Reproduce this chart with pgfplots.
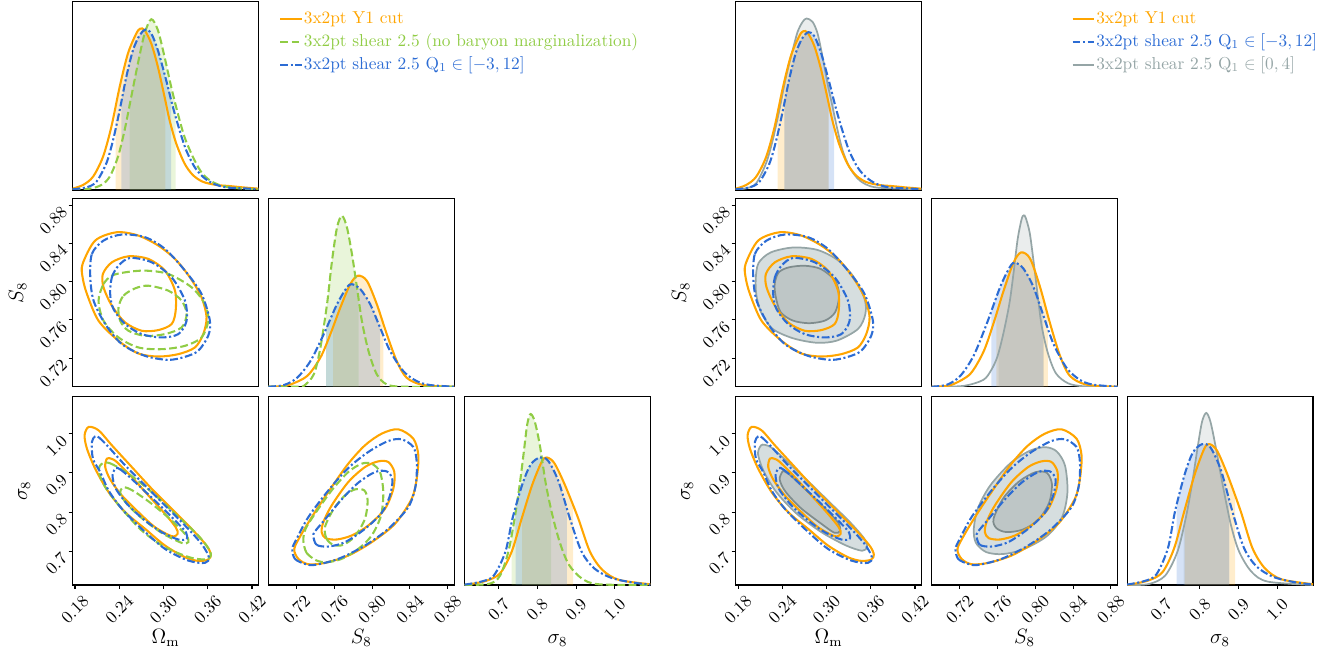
\documentclass[border=0pt]{standalone}
\usepackage{pgfplots}
\pgfplotsset{compat=1.18}
\usepackage{pgfplotstable}
\usepgfplotslibrary{fillbetween}
\definecolor{orC}{HTML}{FFA500}
\definecolor{grC}{HTML}{90CC45}
\definecolor{blC}{HTML}{2C6CD4}
\definecolor{gyC}{HTML}{95A5A6}
\definecolor{gyD}{HTML}{7F8C8D}
\definecolor{gyF}{HTML}{D6DEDF}
\definecolor{gyG}{HTML}{BEC6C6}
\def\pxu{0.578pt}
\tikzset{
 oL/.style={orC, line width=1.2pt},
 gL/.style={grC, line width=1.2pt, dash pattern=on 4.5pt off 2pt},
 bL/.style={blC, line width=1.2pt, dash pattern=on 4.5pt off 1.5pt on 1.2pt off 1.5pt},
 yL/.style={gyC, line width=1pt}}
\newcommand{\band}[3]{\addplot[fill=#1, fill opacity=0.2, draw=none] fill between[of=#2 and Z, soft clip={domain=#3}];}
\pgfplotsset{
 panel/.style={scale only axis, width=107.5pt, height=108.7pt, set layers, anchor=south west,
   axis line style={line width=0.6pt}, tick pos=left, tick align=outside,
   major tick length=2.3pt, every tick/.style={black, line width=0.6pt},
   xtick=\empty, ytick=\empty, label style={font=\large}, tick label style={font=\normalsize}},
 omx/.style={xmin=0.1766, xmax=0.4288},
 s8x/.style={xmin=0.690, xmax=0.887},
 sgx/.style={xmin=0.612, xmax=1.092},
 s8y/.style={ymin=0.690, ymax=0.887},
 sgy/.style={ymin=0.614, ymax=1.094},
 oney/.style={ymin=0, ymax=1},
 bot/.style={xticklabel style={inner sep=0pt, yshift=-11.8pt, rotate=45, anchor=center},
   xlabel style={at={(axis description cs:0.5,-0.31)}, anchor=base}},
 omt/.style={bot, xtick={0.18,0.24,0.30,0.36,0.42}, xticklabels={0.18,0.24,0.30,0.36,0.42}, xlabel={$\Omega_\mathrm{m}$}},
 s8t/.style={bot, xtick={0.72,0.76,0.80,0.84,0.88}, xticklabels={0.72,0.76,0.80,0.84,0.88}, xlabel={$S_8$}},
 sgt/.style={bot, xtick={0.7,0.8,0.9,1.0}, xticklabels={0.7,0.8,0.9,1.0}, xlabel={$\sigma_8$}},
 s8yt/.style={ytick={0.72,0.76,0.80,0.84,0.88}, yticklabels={0.72,0.76,0.80,0.84,0.88}, ylabel={$S_8$},
   yticklabel style={rotate=45, anchor=east}, ylabel style={at={(axis description cs:-0.295,0.5)}, anchor=center}},
 sgyt/.style={ytick={0.7,0.8,0.9,1.0}, yticklabels={0.7,0.8,0.9,1.0}, ylabel={$\sigma_8$},
   yticklabel style={rotate=45, anchor=east}, ylabel style={at={(axis description cs:-0.26,0.5)}, anchor=center}},
 leg/.style={legend cell align=left,
   legend image code/.code={\draw[##1] (0pt,0pt) -- (12.5pt,0pt);},
   legend style={at={(#1,0.962)}, anchor=north west, draw=none, fill=none, inner sep=0pt,
     row sep=2.3pt, font=\normalsize, nodes={inner sep=0.5pt, text height=7.5pt, text depth=2.5pt}}},
}
% ---------- 1D: Omega_m ----------
\pgfplotstableread{
x y
0.1766 0.007
0.1910 0.027
0.2045 0.071
0.2180 0.177
0.2293 0.336
0.2406 0.549
0.2518 0.726
0.2631 0.832
0.2685 0.858
0.2744 0.850
0.2834 0.779
0.2924 0.655
0.3014 0.496
0.3082 0.372
0.3172 0.248
0.3284 0.142
0.3397 0.080
0.3532 0.044
0.3712 0.027
0.3892 0.021
0.4073 0.014
0.4289 0.007
}\oOm
\pgfplotstableread{
x y
0.1766 0.004
0.1955 0.014
0.2090 0.044
0.2225 0.142
0.2316 0.265
0.2406 0.425
0.2496 0.602
0.2586 0.743
0.2676 0.823
0.2757 0.853
0.2834 0.832
0.2924 0.743
0.3036 0.584
0.3127 0.442
0.3217 0.319
0.3307 0.212
0.3419 0.124
0.3532 0.071
0.3667 0.035
0.3847 0.014
0.4073 0.009
0.4289 0.004
}\bOm
\pgfplotstableread{
x y
0.1766 0.002
0.2000 0.007
0.2158 0.027
0.2271 0.071
0.2383 0.177
0.2473 0.319
0.2563 0.496
0.2653 0.673
0.2744 0.832
0.2834 0.908
0.2924 0.850
0.3014 0.708
0.3104 0.549
0.3194 0.407
0.3284 0.283
0.3397 0.177
0.3509 0.097
0.3622 0.053
0.3757 0.027
0.3937 0.012
0.4289 0.002
}\gOm
\pgfplotstableread{
x y
0.1766 0.002
0.1910 0.009
0.2045 0.035
0.2180 0.142
0.2271 0.265
0.2361 0.425
0.2451 0.602
0.2541 0.743
0.2608 0.841
0.2676 0.894
0.2730 0.912
0.2811 0.894
0.2879 0.832
0.2946 0.708
0.3014 0.566
0.3082 0.442
0.3149 0.319
0.3217 0.212
0.3307 0.124
0.3419 0.062
0.3532 0.030
0.3712 0.012
0.4289 0.004
}\yOm
% ---------- 1D: S8 ----------
\pgfplotstableread{
x y
0.690 0.000
0.7031 0.002
0.7136 0.012
0.7312 0.057
0.7452 0.155
0.7557 0.279
0.7663 0.421
0.7768 0.545
0.7849 0.590
0.7944 0.563
0.8049 0.439
0.8155 0.279
0.8260 0.137
0.8365 0.048
0.8541 0.009
0.887 0.000
}\oSe
\pgfplotstableread{
x y
0.690 0.000
0.7066 0.009
0.7206 0.048
0.7347 0.137
0.7487 0.279
0.7628 0.439
0.7733 0.528
0.7786 0.545
0.7874 0.519
0.7979 0.439
0.8084 0.314
0.8190 0.190
0.8330 0.083
0.8471 0.030
0.8611 0.009
0.887 0.000
}\bSe
\pgfplotstableread{
x y
0.690 0.000
0.7206 0.000
0.7276 0.004
0.7382 0.066
0.7452 0.208
0.7522 0.439
0.7575 0.670
0.7628 0.847
0.7680 0.909
0.7733 0.847
0.7786 0.705
0.7839 0.528
0.7891 0.350
0.7961 0.190
0.8049 0.066
0.8155 0.012
0.8330 0.000
0.887 0.000
}\gSe
\pgfplotstableread{
x y
0.690 0.000
0.7234 0.004
0.7448 0.036
0.7533 0.089
0.7598 0.160
0.7662 0.285
0.7726 0.445
0.7769 0.605
0.7812 0.783
0.7854 0.890
0.7876 0.911
0.7897 0.899
0.7940 0.819
0.7983 0.658
0.8026 0.480
0.8068 0.320
0.8133 0.178
0.8218 0.071
0.8347 0.018
0.8518 0.002
0.887 0.000
}\ySe
% ---------- 1D: sigma8 ----------
\pgfplotstableread{
x y
0.612 0.000
0.6659 0.021
0.7037 0.062
0.7339 0.178
0.7598 0.355
0.7868 0.533
0.8116 0.657
0.8245 0.678
0.8439 0.648
0.8709 0.533
0.9054 0.355
0.9356 0.178
0.9680 0.080
1.0111 0.027
1.092 0.004
}\oSg
\pgfplotstableread{
x y
0.612 0.002
0.6551 0.018
0.6875 0.050
0.7177 0.178
0.7360 0.355
0.7609 0.533
0.7824 0.639
0.8062 0.678
0.8277 0.661
0.8547 0.551
0.8838 0.355
0.9140 0.178
0.9464 0.089
0.9896 0.039
1.0435 0.014
1.092 0.002
}\bSg
\pgfplotstableread{
x y
0.612 0.000
0.6767 0.007
0.7037 0.050
0.7253 0.178
0.7414 0.355
0.7544 0.533
0.7652 0.710
0.7738 0.853
0.7824 0.909
0.7932 0.870
0.8062 0.746
0.8223 0.533
0.8407 0.355
0.8601 0.213
0.8817 0.107
0.9140 0.036
0.9572 0.004
1.092 0.000
}\gSg
\pgfplotstableread{
x y
0.612 0.000
0.6682 0.005
0.7105 0.050
0.7423 0.178
0.7635 0.355
0.7794 0.533
0.7953 0.746
0.8059 0.870
0.8165 0.915
0.8271 0.870
0.8398 0.746
0.8589 0.533
0.8801 0.320
0.9013 0.178
0.9331 0.071
0.9754 0.018
1.092 0.000
}\ySg
% ---------- 2D: Omega_m - S8 ----------
\pgfplotstableread{
x y
0.1903 0.8186
0.2074 0.8431
0.2367 0.8518
0.2660 0.8483
0.2930 0.8378
0.3156 0.8238
0.3358 0.8046
0.3516 0.7836
0.3584 0.7626
0.3539 0.7451
0.3426 0.7311
0.3201 0.7241
0.2930 0.7216
0.2660 0.7248
0.2390 0.7381
0.2119 0.7591
0.1962 0.7871
0.1903 0.8046
}\oPa
\pgfplotstableread{
x y
0.2178 0.8081
0.2300 0.8203
0.2525 0.8266
0.2795 0.8238
0.3020 0.8116
0.3156 0.7906
0.3165 0.7696
0.3110 0.7556
0.2930 0.7493
0.2705 0.7486
0.2480 0.7573
0.2300 0.7748
0.2187 0.7941
}\oPb
\pgfplotstableread{
x y
0.2007 0.8046
0.2029 0.8291
0.2187 0.8431
0.2435 0.8494
0.2750 0.8466
0.3020 0.8343
0.3291 0.8116
0.3516 0.7871
0.3629 0.7591
0.3606 0.7433
0.3471 0.7276
0.3291 0.7213
0.3065 0.7181
0.2750 0.7223
0.2435 0.7346
0.2210 0.7556
0.2052 0.7801
}\bPa
\pgfplotstableread{
x y
0.2277 0.7871
0.2300 0.8046
0.2390 0.8168
0.2547 0.8249
0.2840 0.8203
0.3110 0.8046
0.3291 0.7801
0.3313 0.7591
0.3201 0.7451
0.2975 0.7416
0.2705 0.7451
0.2480 0.7556
0.2322 0.7713
}\bPb
\pgfplotstableread{
x y
0.2119 0.7801
0.2187 0.7976
0.2300 0.8063
0.2480 0.8098
0.2750 0.8116
0.3065 0.8081
0.3381 0.7941
0.3561 0.7766
0.3606 0.7591
0.3516 0.7416
0.3291 0.7328
0.2975 0.7293
0.2660 0.7311
0.2390 0.7416
0.2187 0.7591
}\gPa
\pgfplotstableread{
x y
0.2390 0.7731
0.2457 0.7853
0.2615 0.7930
0.2795 0.7958
0.3065 0.7906
0.3246 0.7801
0.3313 0.7661
0.3246 0.7521
0.3020 0.7451
0.2750 0.7433
0.2525 0.7486
0.2412 0.7591
}\gPb
\pgfplotstableread{
x y
0.2040 0.8028
0.2078 0.8195
0.2242 0.8306
0.2543 0.8358
0.2871 0.8334
0.3145 0.8230
0.3363 0.8056
0.3516 0.7819
0.3527 0.7662
0.3429 0.7506
0.3145 0.7384
0.2871 0.7360
0.2543 0.7408
0.2269 0.7506
0.2116 0.7673
0.2050 0.7854
}\yPa
\pgfplotstableread{
x y
0.2297 0.7976
0.2351 0.8097
0.2488 0.8150
0.2707 0.8167
0.2926 0.8132
0.3117 0.8010
0.3172 0.7854
0.3117 0.7680
0.2980 0.7593
0.2762 0.7565
0.2543 0.7593
0.2379 0.7680
0.2313 0.7836
}\yPb
% ---------- 2D: Omega_m - sigma8 ----------
\pgfplotstableread{
x y
0.1930 0.9961
0.1984 1.0174
0.2119 1.0089
0.2300 0.9705
0.2570 0.9151
0.2840 0.8597
0.3111 0.8085
0.3381 0.7574
0.3583 0.7148
0.3642 0.6917
0.3606 0.6789
0.3471 0.6755
0.3291 0.6849
0.3020 0.7148
0.2750 0.7574
0.2480 0.8000
0.2255 0.8512
0.2074 0.9108
0.1962 0.9620
}\oQa
\pgfplotstableread{
x y
0.2232 0.9364
0.2291 0.9364
0.2367 0.9279
0.2570 0.8895
0.2795 0.8426
0.3020 0.7957
0.3165 0.7616
0.3192 0.7446
0.3111 0.7386
0.2885 0.7616
0.2660 0.8000
0.2435 0.8426
0.2277 0.8835
0.2210 0.9151
}\oQb
\pgfplotstableread{
x y
0.2074 0.9935
0.2128 0.9901
0.2255 0.9662
0.2480 0.9194
0.2750 0.8682
0.3020 0.8170
0.3291 0.7659
0.3516 0.7190
0.3615 0.6849
0.3561 0.6704
0.3336 0.6764
0.3020 0.7062
0.2705 0.7574
0.2435 0.8085
0.2255 0.8554
0.2142 0.9023
0.2043 0.9364
0.2029 0.9790
}\bQa
\pgfplotstableread{
x y
0.2354 0.9125
0.2412 0.9091
0.2525 0.8921
0.2750 0.8529
0.2975 0.8128
0.3201 0.7702
0.3304 0.7489
0.3313 0.7318
0.3201 0.7301
0.2975 0.7489
0.2750 0.7787
0.2525 0.8170
0.2354 0.8597
0.2309 0.8938
}\bQb
\pgfplotstableread{
x y
0.2173 0.9245
0.2277 0.9245
0.2525 0.8980
0.2840 0.8512
0.3156 0.7957
0.3471 0.7403
0.3633 0.6994
0.3606 0.6806
0.3381 0.6832
0.3020 0.7105
0.2705 0.7531
0.2435 0.8085
0.2210 0.8639
0.2119 0.9066
}\gQa
\pgfplotstableread{
x y
0.2444 0.8622
0.2502 0.8622
0.2615 0.8512
0.2840 0.8213
0.3111 0.7787
0.3309 0.7403
0.3336 0.7233
0.3246 0.7216
0.2975 0.7471
0.2705 0.7847
0.2502 0.8213
0.2412 0.8486
}\gQb
\pgfplotstableread{
x y
0.2110 0.9700
0.2165 0.9717
0.2265 0.9632
0.2487 0.9258
0.2764 0.8765
0.3041 0.8255
0.3318 0.7745
0.3507 0.7337
0.3551 0.7116
0.3484 0.7014
0.3263 0.7150
0.2930 0.7490
0.2597 0.7958
0.2320 0.8510
0.2143 0.9063
0.2071 0.9488
}\yQa
\pgfplotstableread{
x y
0.2403 0.9037
0.2431 0.9037
0.2514 0.8935
0.2681 0.8638
0.2941 0.8170
0.3152 0.7745
0.3185 0.7524
0.3108 0.7473
0.2930 0.7703
0.2653 0.8102
0.2442 0.8527
0.2365 0.8833
}\yQb
% ---------- 2D: S8 - sigma8 ----------
\pgfplotstableread{
x y
0.7175 0.7062
0.7218 0.6807
0.7324 0.6670
0.7500 0.6704
0.7747 0.6892
0.7995 0.7233
0.8242 0.7702
0.8419 0.8341
0.8472 0.8853
0.8489 0.9449
0.8436 0.9876
0.8277 1.0114
0.8101 1.0003
0.7924 0.9705
0.7747 0.9236
0.7571 0.8639
0.7394 0.8000
0.7253 0.7446
}\oRa
\pgfplotstableread{
x y
0.7465 0.7489
0.7507 0.7335
0.7624 0.7301
0.7783 0.7403
0.7959 0.7659
0.8136 0.8085
0.8224 0.8597
0.8235 0.9023
0.8171 0.9279
0.8065 0.9296
0.7924 0.9151
0.7747 0.8767
0.7571 0.8170
0.7483 0.7744
}\oRb
\pgfplotstableread{
x y
0.7154 0.7062
0.7182 0.6807
0.7288 0.6679
0.7394 0.6653
0.7642 0.6807
0.7924 0.7148
0.8171 0.7574
0.8383 0.8128
0.8461 0.8682
0.8472 0.9279
0.8436 0.9662
0.8313 0.9858
0.8171 0.9816
0.7959 0.9535
0.7747 0.9125
0.7536 0.8554
0.7324 0.7872
0.7200 0.7318
}\bRa
\pgfplotstableread{
x y
0.7377 0.7386
0.7412 0.7165
0.7536 0.7122
0.7712 0.7233
0.7924 0.7574
0.8101 0.7983
0.8189 0.8426
0.8214 0.8835
0.8154 0.9040
0.8030 0.9023
0.7853 0.8750
0.7677 0.8324
0.7500 0.7812
0.7394 0.7506
}\bRb
\pgfplotstableread{
x y
0.7271 0.7275
0.7306 0.6960
0.7412 0.6764
0.7518 0.6721
0.7677 0.6807
0.7853 0.7062
0.7995 0.7403
0.8094 0.7915
0.8118 0.8512
0.8083 0.9023
0.7995 0.9236
0.7889 0.9236
0.7747 0.9023
0.7571 0.8554
0.7394 0.7957
0.7295 0.7574
}\gRa
\pgfplotstableread{
x y
0.7500 0.7616
0.7518 0.7318
0.7589 0.7165
0.7694 0.7165
0.7818 0.7386
0.7924 0.7829
0.7952 0.8298
0.7917 0.8554
0.7818 0.8580
0.7712 0.8426
0.7589 0.8068
}\gRb
\pgfplotstableread{
x y
0.7348 0.7575
0.7370 0.7218
0.7479 0.6980
0.7653 0.6929
0.7870 0.7048
0.8122 0.7388
0.8283 0.7873
0.8340 0.8510
0.8314 0.9190
0.8227 0.9547
0.8109 0.9658
0.7948 0.9573
0.7740 0.9258
0.7522 0.8680
0.7392 0.8102
}\yRa
\pgfplotstableread{
x y
0.7557 0.7830
0.7587 0.7592
0.7696 0.7490
0.7870 0.7558
0.8035 0.7813
0.8148 0.8255
0.8175 0.8722
0.8122 0.9003
0.8001 0.9020
0.7827 0.8782
0.7661 0.8357
}\yRb
\begin{document}
\begin{tikzpicture}
\path (0,0) rectangle ({1332*\pxu},{-651*\pxu});
% ================= LEFT TRIANGLE =================
\begin{axis}[panel, omx, oney, at={({72.5*\pxu},{-190*\pxu})}, leg=1.11]
\addlegendimage{oL}\addlegendentry{\textcolor{orC}{3x2pt Y1 cut}}
\addlegendimage{gL}\addlegendentry{\textcolor{grC}{3x2pt shear 2.5 (no baryon marginalization)}}
\addlegendimage{bL}\addlegendentry{\textcolor{blC}{3x2pt shear 2.5 Q$_1\in[-3,12]$}}
\addplot[draw=none, name path=Z] coordinates {(0,0) (2,0)};
\addplot[oL, smooth, name path=O] table[x=x, y=y] {\oOm};
\addplot[gL, smooth, name path=G] table[x=x, y=y] {\gOm};
\addplot[bL, smooth, name path=B] table[x=x, y=y] {\bOm};
\band{orC}{O}{0.2352:0.3027}
\band{grC}{G}{0.2541:0.3163}
\band{blC}{B}{0.2428:0.3104}
\end{axis}
\begin{axis}[panel, omx, s8y, s8yt, at={({72.5*\pxu},{-386.7*\pxu})}]
\addplot[oL, smooth cycle] table {\oPa};
\addplot[oL, smooth cycle] table {\oPb};
\addplot[gL, smooth cycle] table {\gPa};
\addplot[gL, smooth cycle] table {\gPb};
\addplot[bL, smooth cycle] table {\bPa};
\addplot[bL, smooth cycle] table {\bPb};
\end{axis}
\begin{axis}[panel, s8x, oney, at={({268.3*\pxu},{-386.7*\pxu})}]
\addplot[draw=none, name path=Z] coordinates {(0,0) (2,0)};
\addplot[oL, smooth, name path=O] table[x=x, y=y] {\oSe};
\addplot[gL, smooth, name path=G] table[x=x, y=y] {\gSe};
\addplot[bL, smooth, name path=B] table[x=x, y=y] {\bSe};
\band{orC}{O}{0.7586:0.8120}
\band{grC}{G}{0.7512:0.7856}
\band{blC}{B}{0.7512:0.8084}
\end{axis}
\begin{axis}[panel, omx, sgy, omt, sgyt, at={({72.5*\pxu},{-585*\pxu})}]
\addplot[oL, smooth cycle] table {\oQa};
\addplot[oL, smooth cycle] table {\oQb};
\addplot[gL, smooth cycle] table {\gQa};
\addplot[gL, smooth cycle] table {\gQb};
\addplot[bL, smooth cycle] table {\bQa};
\addplot[bL, smooth cycle] table {\bQb};
\end{axis}
\begin{axis}[panel, s8x, sgy, s8t, at={({268.3*\pxu},{-585*\pxu})}]
\addplot[oL, smooth cycle] table {\oRa};
\addplot[oL, smooth cycle] table {\oRb};
\addplot[gL, smooth cycle] table {\gRa};
\addplot[gL, smooth cycle] table {\gRb};
\addplot[bL, smooth cycle] table {\bRa};
\addplot[bL, smooth cycle] table {\bRb};
\end{axis}
\begin{axis}[panel, sgx, oney, sgt, at={({464.5*\pxu},{-585*\pxu})}]
\addplot[draw=none, name path=Z] coordinates {(0,0) (2,0)};
\addplot[oL, smooth, name path=O] table[x=x, y=y] {\oSg};
\addplot[gL, smooth, name path=G] table[x=x, y=y] {\gSg};
\addplot[bL, smooth, name path=B] table[x=x, y=y] {\bSg};
\band{orC}{O}{0.7609:0.8925}
\band{grC}{G}{0.7339:0.8353}
\band{blC}{B}{0.7436:0.8763}
\end{axis}
% ================= RIGHT TRIANGLE =================
\begin{axis}[panel, omx, oney, at={({735.5*\pxu},{-190*\pxu})}, leg=1.804]
\addlegendimage{oL}\addlegendentry{\textcolor{orC}{3x2pt Y1 cut}}
\addlegendimage{bL}\addlegendentry{\textcolor{blC}{3x2pt shear 2.5 Q$_1\in[-3,12]$}}
\addlegendimage{yL, line width=1.4pt}\addlegendentry{\textcolor{gyC}{3x2pt shear 2.5 Q$_1\in[0,4]$}}
\addplot[draw=none, name path=Z] coordinates {(0,0) (2,0)};
\addplot[yL, smooth, name path=Y] table[x=x, y=y] {\yOm};
\addplot[oL, smooth, name path=O] table[x=x, y expr=\thisrow{y}*0.984] {\oOm};
\addplot[bL, smooth, name path=B] table[x=x, y expr=\thisrow{y}*0.984] {\bOm};
\band{gyC}{Y}{0.2428:0.3027}
\band{orC}{O}{0.2338:0.3027}
\band{blC}{B}{0.2428:0.3104}
\end{axis}
\begin{axis}[panel, omx, s8y, s8yt, at={({735.5*\pxu},{-386.7*\pxu})}]
\addplot[fill=gyF, draw=gyC, line width=1pt, smooth cycle] table {\yPa};
\addplot[fill=gyG, draw=gyD, line width=1pt, smooth cycle] table {\yPb};
\addplot[oL, smooth cycle] table {\oPa};
\addplot[oL, smooth cycle] table {\oPb};
\addplot[bL, smooth cycle] table {\bPa};
\addplot[bL, smooth cycle] table {\bPb};
\end{axis}
\begin{axis}[panel, s8x, oney, at={({931.5*\pxu},{-386.7*\pxu})}]
\addplot[draw=none, name path=Z] coordinates {(0,0) (2,0)};
\addplot[yL, smooth, name path=Y] table[x=x, y=y] {\ySe};
\addplot[oL, smooth, name path=O] table[x=x, y expr=\thisrow{y}*1.21] {\oSe};
\addplot[bL, smooth, name path=B] table[x=x, y expr=\thisrow{y}*1.21] {\bSe};
\band{gyC}{Y}{0.7611:0.8090}
\band{orC}{O}{0.7586:0.8133}
\band{blC}{B}{0.7533:0.8084}
\end{axis}
\begin{axis}[panel, omx, sgy, omt, sgyt, at={({735.5*\pxu},{-585*\pxu})}]
\addplot[fill=gyF, draw=gyC, line width=1pt, smooth cycle] table {\yQa};
\addplot[fill=gyG, draw=gyD, line width=1pt, smooth cycle] table {\yQb};
\addplot[oL, smooth cycle] table {\oQa};
\addplot[oL, smooth cycle] table {\oQb};
\addplot[bL, smooth cycle] table {\bQa};
\addplot[bL, smooth cycle] table {\bQb};
\end{axis}
\begin{axis}[panel, s8x, sgy, s8t, at={({931.5*\pxu},{-585*\pxu})}]
\addplot[fill=gyF, draw=gyC, line width=1pt, smooth cycle] table {\yRa};
\addplot[fill=gyG, draw=gyD, line width=1pt, smooth cycle] table {\yRb};
\addplot[oL, smooth cycle] table {\oRa};
\addplot[oL, smooth cycle] table {\oRb};
\addplot[bL, smooth cycle] table {\bRa};
\addplot[bL, smooth cycle] table {\bRb};
\end{axis}
\begin{axis}[panel, sgx, oney, sgt, at={({1127*\pxu},{-585*\pxu})}]
\addplot[draw=none, name path=Z] coordinates {(0,0) (2,0)};
\addplot[yL, smooth, name path=Y] table[x=x, y=y] {\ySg};
\addplot[oL, smooth, name path=O] table[x=x, y expr=\thisrow{y}*1.105] {\oSg};
\addplot[bL, smooth, name path=B] table[x=x, y expr=\thisrow{y}*1.105] {\bSg};
\band{gyC}{Y}{0.758:0.8748}
\band{orC}{O}{0.7609:0.8907}
\band{blC}{B}{0.7402:0.8763}
\end{axis}
\end{tikzpicture}
\end{document}
